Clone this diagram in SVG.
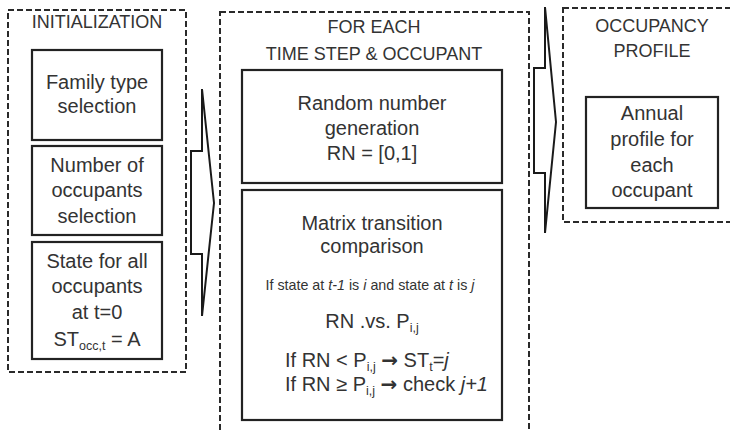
<svg xmlns="http://www.w3.org/2000/svg" width="730" height="431" viewBox="0 0 730 431">
  <style>
    text { font-family: "Liberation Sans", Arial, sans-serif; fill: #333; font-size: 20px; text-anchor: middle; }
    .title { font-size: 18px; }
    .small { font-size: 14.3px; }
    .left { text-anchor: start; }
    .sub { font-size: 12.5px; }
    .arr { font-family: "DejaVu Sans", sans-serif; font-weight: bold; font-size: 20px; }
    .frame { fill: none; stroke: #2a2a2a; stroke-width: 2; stroke-dasharray: 6 3; }
    .box { fill: #fff; stroke: #222; stroke-width: 2.2; }
    .arrow { fill: #fff; stroke: #1a1a1a; stroke-width: 2; stroke-linejoin: miter; }
    .it { font-style: italic; }
  </style>
  <rect width="730" height="431" fill="#fff"/>

  <!-- Initialization stage -->
  <g id="initialization">
    <rect class="frame" x="8" y="10" width="178" height="362"/>
    <text class="title" x="97" y="28">INITIALIZATION</text>
  </g>
  <g id="family-type">
    <rect class="box" x="32" y="50" width="130" height="90"/>
    <text x="97" y="89">Family type</text>
    <text x="97" y="113">selection</text>
  </g>
  <g id="number-of-occupants">
    <rect class="box" x="32" y="146" width="130" height="89"/>
    <text x="97" y="172">Number of</text>
    <text x="97" y="197">occupants</text>
    <text x="97" y="223">selection</text>
  </g>
  <g id="initial-state">
    <rect class="box" x="32" y="242" width="130" height="117"/>
    <text x="97" y="268">State for all</text>
    <text x="97" y="293">occupants</text>
    <text x="97" y="319">at t=0</text>
    <text x="97" y="346">ST<tspan class="sub" dy="4">occ,t</tspan><tspan dy="-4"> = A</tspan></text>
  </g>

  <!-- Per time step loop -->
  <g id="time-step-loop">
    <rect class="frame" x="220" y="12" width="309" height="440"/>
    <text class="title" x="374" y="33">FOR EACH</text>
    <text class="title" x="374" y="60">TIME STEP &amp; OCCUPANT</text>
  </g>
  <g id="random-number">
    <rect class="box" x="242" y="70" width="260" height="113"/>
    <text x="372" y="110">Random number</text>
    <text x="372" y="135">generation</text>
    <text x="372" y="160">RN = [0,1]</text>
  </g>
  <g id="matrix-comparison">
    <rect class="box" x="242" y="190" width="260" height="230"/>
    <text x="372" y="230">Matrix transition</text>
    <text x="372" y="253">comparison</text>
    <text class="small" x="370" y="290">If state at <tspan class="it">t-1</tspan> is <tspan class="it">i</tspan> and state at <tspan class="it">t</tspan> is <tspan class="it">j</tspan></text>
    <text x="372" y="328">RN .vs. P<tspan class="sub" dy="4">i,j</tspan></text>
    <text class="left" x="285" y="367">If RN &lt; P<tspan class="sub" dy="4">i,j</tspan><tspan dy="-4"> </tspan><tspan class="arr">→</tspan><tspan> ST</tspan><tspan class="sub" dy="4">t</tspan><tspan dy="-4">=</tspan><tspan class="it">j</tspan></text>
    <text class="left" x="285" y="391">If RN ≥ P<tspan class="sub" dy="4">i,j</tspan><tspan dy="-4"> </tspan><tspan class="arr">→</tspan><tspan> check </tspan><tspan class="it">j+1</tspan></text>
  </g>

  <!-- Output stage -->
  <g id="occupancy-profile">
    <rect class="frame" x="563" y="8" width="180" height="214"/>
    <text class="title" x="652" y="32">OCCUPANCY</text>
    <text class="title" x="652" y="57">PROFILE</text>
  </g>
  <g id="annual-profile">
    <rect class="box" x="586" y="97" width="132" height="111"/>
    <text x="652" y="120">Annual</text>
    <text x="652" y="146">profile for</text>
    <text x="652" y="172">each</text>
    <text x="652" y="197">occupant</text>
  </g>

  <!-- Block arrows between stages -->
  <g id="connectors">
    <polygon class="arrow" points="191,151 202,151 202,89 214,203 202,316 202,254 191,254"/>
    <polygon class="arrow" points="534,68 545,68 545,7 556,122 545,233 545,173 534,173"/>
  </g>
</svg>
